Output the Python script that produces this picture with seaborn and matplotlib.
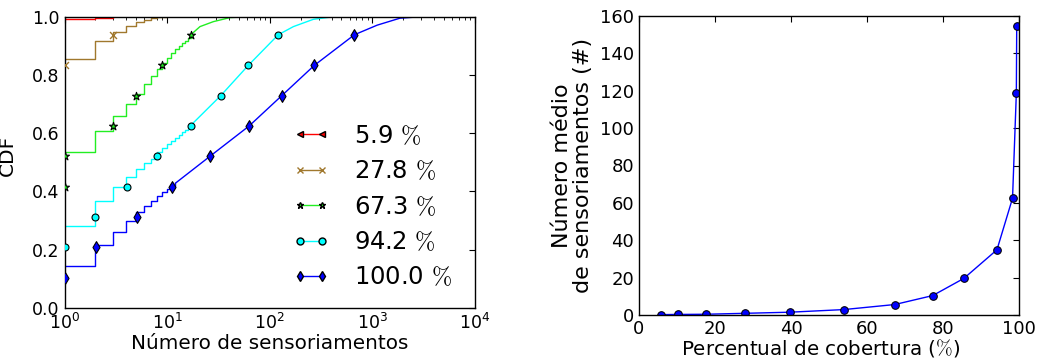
import matplotlib
matplotlib.use("Agg")
import matplotlib.pyplot as plt
import seaborn as sns
from matplotlib.lines import Line2D


# left panel: CDF of the number of sensing events, one curve per coverage level
coverage_labels = ["5.9", "27.8", "67.3", "94.2", "100.0"]
# marker levels; each series only marks the last len(marks) of them
cdf_levels = [0.104, 0.209, 0.313, 0.417, 0.521, 0.625, 0.729, 0.833, 0.938]

red_x = [1, 2, 3]
red_cdf = [0.991, 0.997, 1.0]
red_marks = []

brown_x = [1, 2, 3, 4, 5, 6, 7, 8, 10]
brown_cdf = [0.855, 0.916, 0.949, 0.968, 0.981, 0.989, 0.994, 0.998, 1.0]
brown_marks = [1, 3]

green_x = [1, 2, 3, 4, 5, 6, 7, 8, 9, 10, 11, 12, 13, 14, 15, 16, 17,
           20.9, 28.2, 41, 64]
green_cdf = [0.534, 0.609, 0.659, 0.700, 0.736, 0.768, 0.796, 0.819, 0.840,
             0.857, 0.874, 0.888, 0.899, 0.909, 0.918, 0.927, 0.938,
             0.966, 0.983, 0.997, 1.0]
green_marks = [1, 1, 3.0, 5.0, 9.0, 17.1]

cyan_x = [1, 2, 3, 4, 5, 6, 7, 8, 9, 10, 11, 12, 13, 14, 15, 16, 17,
          33.3, 61.8, 121, 170, 266, 420]
cyan_cdf = [0.283, 0.367, 0.417, 0.450, 0.476, 0.499, 0.512, 0.535, 0.550,
            0.563, 0.575, 0.585, 0.595, 0.603, 0.611, 0.618, 0.627,
            0.729, 0.833, 0.938, 0.966, 0.991, 1.0]
cyan_marks = [1, 2.0, 4.07, 8.0, 17.1, 33.3, 61.8, 121]

blue_x = [1, 2, 3, 4, 5, 6, 7, 8, 9, 10, 11, 12,
          26.2, 63, 131, 272, 668, 1114, 1860, 3000]
blue_cdf = [0.143, 0.216, 0.262, 0.299, 0.328, 0.351, 0.367, 0.384, 0.399,
            0.410, 0.420, 0.428,
            0.521, 0.625, 0.729, 0.833, 0.938, 0.971, 0.995, 1.0]
blue_marks = [1, 2.03, 5.09, 11.2, 26.2, 63, 131, 272, 668]

# right panel: mean number of sensing events vs. coverage
coverage_pct = [5.9, 10.3, 17.5, 27.8, 39.7, 53.9, 67.3, 77.3, 85.5, 94.2,
                98.3, 99.3, 99.4]
mean_sensing = [0.2, 0.3, 0.4, 0.9, 1.5, 2.9, 5.6, 10.4, 19.6, 34.9,
                62.5, 118.6, 154.5]


sns.set_style("white")
plt.rcParams["font.family"] = ["DejaVu Sans"]
plt.rcParams["mathtext.fontset"] = "cm"
for key in ["text.color", "axes.labelcolor", "xtick.color", "ytick.color",
            "axes.edgecolor"]:
    plt.rcParams[key] = "black"
plt.rcParams["xtick.direction"] = "in"
plt.rcParams["ytick.direction"] = "in"
plt.rcParams["xtick.top"] = True
plt.rcParams["ytick.right"] = True
plt.rcParams["xtick.major.size"] = 4
plt.rcParams["ytick.major.size"] = 4
plt.rcParams["xtick.minor.size"] = 2
plt.rcParams["axes.linewidth"] = 1.0

fig = plt.figure(figsize=(10.38, 3.61), dpi=100)
ax1 = fig.add_axes([64.5 / 1038, 53 / 361, 410.5 / 1038, 291.3 / 361])
ax2 = fig.add_axes([639 / 1038, 46 / 361, 380 / 1038, 299 / 361])

ax1.set_xscale("log")

series = [
    (red_x, red_cdf, 3, red_marks, "red", "<", 30),
    (brown_x, brown_cdf, 9, brown_marks, "#a0782d", "x", 25),
    (green_x, green_cdf, 17, green_marks, "#22ee22", "*", 36),
    (cyan_x, cyan_cdf, 17, cyan_marks, "cyan", "o", 25),
    (blue_x, blue_cdf, 12, blue_marks, "blue", "d", 36),
]

handles = []
for (xs, ys, n_step, marks, color, marker, size), label in zip(series, coverage_labels):
    sns.lineplot(x=xs[:n_step], y=ys[:n_step], drawstyle="steps-post",
                 color=color, linewidth=1, estimator=None, sort=False, ax=ax1)
    if len(xs) > n_step:
        sns.lineplot(x=xs[n_step - 1:], y=ys[n_step - 1:], color=color,
                     linewidth=1, estimator=None, sort=False, ax=ax1)
    mec = color if marker == "x" else "black"
    if marks:
        levels = cdf_levels[len(cdf_levels) - len(marks):]
        if marker == "x":
            sns.scatterplot(x=marks, y=levels, marker=marker, color=color,
                            s=size, linewidth=1, zorder=3, legend=False, ax=ax1)
        else:
            sns.scatterplot(x=marks, y=levels, marker=marker, color=color,
                            edgecolor="black", s=size, linewidth=0.8, zorder=3,
                            legend=False, ax=ax1)
    handles.append(Line2D([], [], color=color, marker=marker, markersize=5,
                          markeredgecolor=mec, linewidth=1,
                          label=label + r" $\%$"))

ax1.set_xlim(1, 1e4)
ax1.set_ylim(0, 1)
ax1.set_yticks([0.0, 0.2, 0.4, 0.6, 0.8, 1.0])
ax1.set_yticklabels(["0.0", "0.2", "0.4", "0.6", "0.8", "1.0"])
ax1.tick_params(labelsize=12.5)
ax1.tick_params(which="minor", direction="in", top=True)
ax1.set_xlabel("Número de sensoriamentos", fontsize=14.4, labelpad=1)
ax1.set_ylabel("CDF", fontsize=14.5)
ax1.yaxis.set_label_coords(-0.115, 0.525)
ax1.legend(handles=handles, loc="lower right", bbox_to_anchor=(0.997, -0.012),
           frameon=False, fontsize=17.5, numpoints=2, handlelength=1.5,
           handletextpad=1.0, labelspacing=0.47)

sns.lineplot(x=coverage_pct, y=mean_sensing, marker="o", color="blue",
             markeredgecolor="black", markersize=5.5, linewidth=1,
             estimator=None, sort=False, ax=ax2)
ax2.set_xlim(0, 100)
ax2.set_ylim(0, 160)
ax2.set_xticks([0, 20, 40, 60, 80, 100])
ax2.set_yticks([0, 20, 40, 60, 80, 100, 120, 140, 160])
ax2.tick_params(labelsize=13)
ax2.set_xlabel(r"Percentual de cobertura ($\%$)", fontsize=14.3)
ax2.xaxis.set_label_coords(0.478, -0.075)
ax2.set_ylabel("Número médio\nde sensoriamentos (#)", fontsize=16,
               linespacing=1.1)
ax2.yaxis.set_label_coords(-0.12, 0.5)

fig.savefig("out.png", dpi=100)
